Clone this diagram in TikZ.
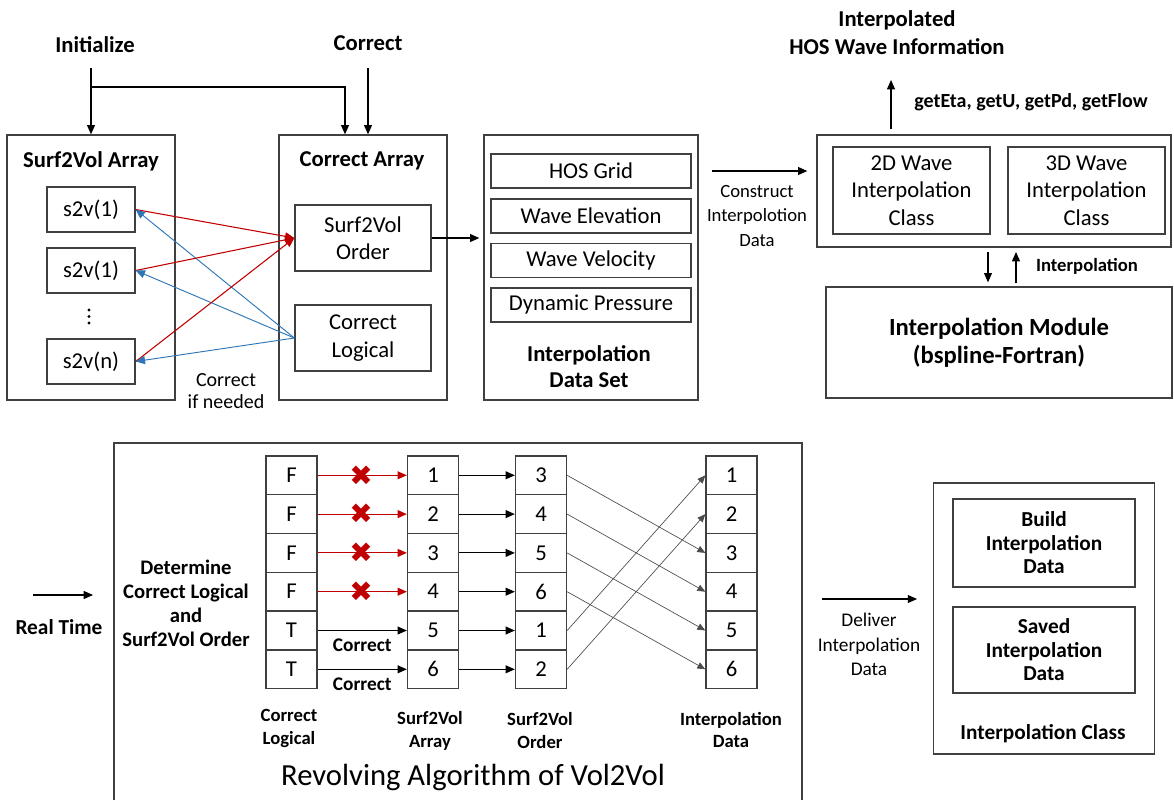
\documentclass[tikz,border=0pt]{standalone}
\usepackage{fontspec}
\setmainfont{Carlito}
\newfontfamily\symfont{DejaVu Sans}
\usetikzlibrary{arrows.meta,calc}
\definecolor{myred}{RGB}{192,0,0}
\definecolor{myblue}{RGB}{46,117,182}
\newcommand{\pxu}{0.75pt}
\tikzset{
  box/.style={draw=black!75, line width=1pt, inner sep=0pt, align=center, font=\fontsize{17}{20.5}\selectfont},
  wbox/.style 2 args={box, minimum width=#1*\pxu, minimum height=#2*\pxu},
  cell/.style={box, minimum width=51*\pxu, minimum height=38.8*\pxu},
  lbl/.style={align=center, font=\bfseries\fontsize{17}{21}\selectfont},
  sml/.style={align=center, font=\fontsize{14}{18.4}\selectfont},
  >={Triangle[length=7pt,width=6pt]},
  arr/.style={->, line width=0.8pt},
  redarr/.style={->, draw=myred, line width=0.8pt},
  bluearr/.style={->, draw=myblue, line width=0.7pt},
  thinarr/.style={-{Triangle[length=6pt,width=5pt]}, draw=black!70, line width=0.5pt}
}
\begin{document}
\begin{tikzpicture}[x=0.75pt,y=-0.75pt]
\useasboundingbox (0,0) rectangle (1174,800);

\node[lbl] (init) at (95,45) {Initialize};
\node[lbl] (corr) at (368,43) {Correct};
\node[wbox={168}{265}] (sva) at (91,267.5) {};
\node[lbl] (svat) at (91,161) {Surf2Vol Array};
\node[wbox={88}{45}] (s1) at (91,209.5) {s2v(1)};
\node[wbox={88}{45}] (s2) at (91,270.5) {s2v(1)};
\node[wbox={88}{45}] (s3) at (91,361.5) {s2v(n)};
\foreach \y in {310,316.5,323}
  \fill (89,\y) circle (1.6);
\node[wbox={168}{265}] (ca) at (363,267.5) {};
\node[lbl] (cat) at (362,161) {Correct Array};
\node[wbox={136}{66}] (sord) at (363,238) {Surf2Vol\\Order};
\node[wbox={136}{66}] (clog) at (363,338) {Correct\\Logical};
\node[sml, font=\fontsize{15}{16.5}\selectfont] (cin) at (226,391) {Correct\\if needed};

\coordinate (i0) at (91,68);
\coordinate (i1) at (91,87);
\coordinate (c0) at (368,68);
\draw[arr] (i0) -- (sva.north);
\draw[arr] (i1) -| ([xshift=-18*\pxu]ca.north);
\draw[arr] (c0) -- (c0 |- ca.north);
\foreach \s in {s1,s2,s3} {
  \draw[redarr] (\s.east) -- (sord.west);
  \draw[bluearr] (clog.west) -- (\s.east);
}

\node[wbox={214}{265}] (ids) at (591,267.5) {};
\foreach \t/\y/\n in {HOS Grid/171/hos, Wave Elevation/216/wel, Wave Velocity/260.5/wvl, Dynamic Pressure/305/dyp}
  \node[wbox={200}{34}] (\n) at (591,\y) {\t};
\node[lbl, font=\bfseries\fontsize{17}{20}\selectfont] (idst) at (589,366.5) {Interpolation\\Data Set};
\draw[arr, shorten >=3pt] (sord.east) -- (ids.west |- sord.east);

\node[wbox={354}{112}] (cls) at (994,191) {};
\node[wbox={157}{87}] (c2d) at (911.5,190.5) {2D Wave\\Interpolation\\Class};
\node[wbox={157}{87}] (c3d) at (1086.5,190.5) {3D Wave\\Interpolation\\Class};
\draw[arr, shorten <=9.75pt, shorten >=6.75pt] (ids.east |- hos) -- (cls.west |- hos);
\node[sml] (cons) at (757,216) {Construct\\Interpolotion\\Data};
\coordinate (g1) at (891,80);
\draw[arr, shorten <=3.75pt] (cls.north -| g1) -- (g1);
\node[lbl, font=\bfseries\fontsize{15}{18}\selectfont] (gets) at (1031,102) {getEta, getU, getPd, getFlow};
\node[lbl] (hosw) at (897,33) {Interpolated\\HOS Wave Information};

\node[wbox={346}{111}, font=\bfseries\fontsize{18.5}{21}\selectfont] (mod) at (999,342.5) {Interpolation Module\\(bspline-Fortran)};
\coordinate (d0) at (988,252);
\coordinate (u0) at (1016,252);
\draw[arr, shorten >=3pt] (d0) -- (d0 |- mod.north);
\draw[arr, shorten <=2.25pt] (u0 |- mod.north) -- (u0);
\node[lbl, font=\bfseries\fontsize{14}{17}\selectfont] (ipl) at (1087,266) {Interpolation};

\draw[line width=1pt, draw=black!75] (114,800) -- (114,443) -- (802,443) -- (802,800);
\coordinate (rt0) at (33,595);
\coordinate (rt1) at (93,595);
\draw[arr] (rt0) -- (rt1);
\node[lbl, font=\bfseries\fontsize{16}{19}\selectfont] (rt) at (59,627) {Real Time};
\node[lbl, font=\bfseries\fontsize{15.5}{18}\selectfont] (det) at (186,603) {Determine\\Correct Logical\\and\\Surf2Vol Order};

\foreach \l [count=\i] in {F,F,F,F,T,T}
  \node[cell] (cl\i) at (291.5,{436.5+38.8*\i}) {\l};
\foreach \i in {1,...,6} {
  \node[cell] (sa\i) at (433,{436.5+38.8*\i}) {\i};
  \node[cell] (id\i) at (731.5,{436.5+38.8*\i}) {\i};
}
\foreach \v [count=\i] in {3,4,5,6,1,2}
  \node[cell] (so\i) at (541,{436.5+38.8*\i}) {\v};
\foreach \i in {1,...,4} {
  \draw[redarr] (cl\i) -- (sa\i);
  \node[text=myred, font=\symfont\fontsize{21}{21}\selectfont] (x\i) at (361,{436.5+38.8*\i}) {✖};
}
\foreach \i in {5,6}
  \draw[arr] (cl\i) -- node[below=2.5pt, font=\bfseries\fontsize{14.5}{17}\selectfont] {Correct} (sa\i);
\foreach \i in {1,...,6}
  \draw[arr] (sa\i) -- (so\i);
\foreach \v [count=\i] in {3,4,5,6,1,2}
  \draw[thinarr] (so\i.east) -- (id\v.west);

\node[lbl, font=\bfseries\fontsize{14}{17}\selectfont] (clt) at (289,728.5) {Correct\\Logical};
\node[lbl, font=\bfseries\fontsize{14}{17}\selectfont] (sat) at (430,731) {Surf2Vol\\Array};
\node[lbl, font=\bfseries\fontsize{14}{17}\selectfont] (sot) at (540,730.5) {Surf2Vol\\Order};
\node[lbl, font=\bfseries\fontsize{14}{17}\selectfont] (idt) at (731,730) {Interpolation\\Data};
\node[font=\fontsize{23}{26}\selectfont] (rev) at (473,777) {Revolving Algorithm of Vol2Vol};

\node[wbox={220.5}{271}] (icl) at (1044,618.5) {};
\node[wbox={182}{88}, font=\bfseries\fontsize{16}{17.6}\selectfont] (bld) at (1044,543) {Build\\Interpolation\\Data};
\node[wbox={182}{86}, font=\bfseries\fontsize{16}{17.6}\selectfont] (svd) at (1044,650) {Saved\\Interpolation\\Data};
\node[lbl, font=\bfseries\fontsize{16}{19}\selectfont] (iclt) at (1043,734) {Interpolation Class};
\coordinate (dv0) at (822,599);
\draw[arr, shorten >=12pt] (dv0) -- (dv0 -| icl.west);
\node[sml, font=\fontsize{14.5}{18.4}\selectfont] (dlv) at (869,644.5) {Deliver\\Interpolation\\Data};
\end{tikzpicture}
\end{document}
